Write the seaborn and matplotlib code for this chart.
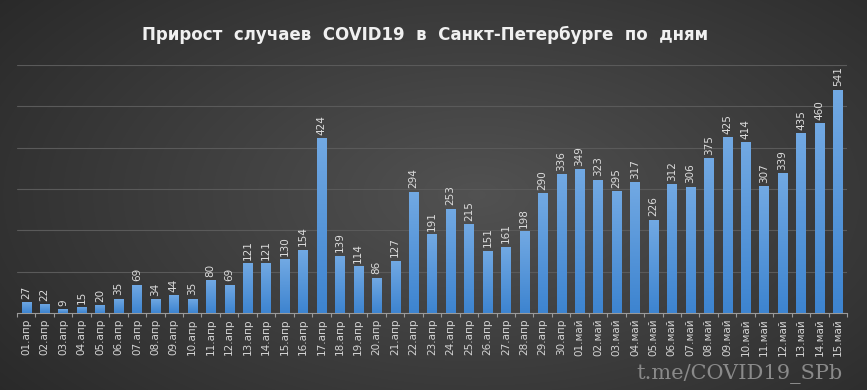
import numpy as np
import pandas as pd
import matplotlib
matplotlib.use("Agg")
import matplotlib.pyplot as plt
import seaborn as sns

# daily new cases, Saint Petersburg
apr_days = [f"{d:02d}.апр" for d in range(1, 31)]
may_days = [f"{d:02d}.май" for d in range(1, 16)]
dates = apr_days + may_days

apr_cases = [27, 22, 9, 15, 20, 35, 69, 34, 44, 35, 80, 69, 121, 121, 130,
             154, 424, 139, 114, 86, 127, 294, 191, 253, 215, 151, 161, 198, 290, 336]
may_cases = [349, 323, 295, 317, 226, 312, 306, 375, 425, 414, 307, 339, 435, 460, 541]
cases = apr_cases + may_cases

TITLE = "Прирост  случаев  COVID19  в  Санкт-Петербурге  по  дням"
WATERMARK = "t.me/COVID19_SPb"

df = pd.DataFrame({"date": dates, "cases": cases})

sns.set_theme(style="dark")
plt.rcParams["font.family"] = ["DejaVu Sans"]

fig = plt.figure(figsize=(8.67, 3.9), dpi=100)

# radial dark background
bg = fig.add_axes([0, 0, 1, 1], zorder=-10)
yy, xx = np.mgrid[0:1:390j, 0:1:867j]
r = np.sqrt(((xx - 0.55) / 0.75) ** 2 + ((yy - 0.5) / 0.9) ** 2)
shade = np.clip(0.32 - 0.17 * r, 0.15, 0.32)
bg.imshow(np.dstack([shade, shade, shade]), aspect="auto", extent=[0, 1, 0, 1])
bg.set_axis_off()

ax = fig.add_axes([0.0196, 0.197, 0.9574, 0.636])
ax.set_facecolor("none")
sns.barplot(data=df, x="date", y="cases", ax=ax, width=0.5, color="#4a8fd8", saturation=1)

# vertical gradient on bars
grad = np.linspace(0, 1, 100).reshape(-1, 1)
cmap = matplotlib.colors.LinearSegmentedColormap.from_list("bar", ["#3d84d0", "#72a9e3"])
for p in ax.patches:
    x0, y0 = p.get_x(), p.get_y()
    w, h = p.get_width(), p.get_height()
    im = ax.imshow(grad, cmap=cmap, aspect="auto", origin="lower",
                   extent=[x0, x0 + w, y0, y0 + h], zorder=3)
    im.set_clip_path(p)
    p.set_facecolor("none")
    p.set_edgecolor("none")

for i, v in enumerate(cases):
    ax.text(i, v + 8, str(v), rotation=90, ha="center", va="bottom",
            fontsize=7.5, color="#dcdcdc", zorder=4)

ax.set_xlim(-0.5, len(dates) - 0.5)
ax.set_ylim(0, 600)
ax.set_yticks(range(100, 601, 100))
ax.set_yticklabels([])
ax.tick_params(axis="y", length=0)
ax.yaxis.grid(True, color="#5a5a5a", linewidth=0.8)
ax.xaxis.grid(False)
ax.set_axisbelow(True)

ax.set_xticks(range(len(dates)))
ax.set_xticklabels(dates, rotation=90, fontsize=7.5, color="#d4d4d4")
ax.tick_params(axis="x", which="major", length=0, pad=4)
ax.set_xticks(np.arange(-0.5, len(dates), 1), minor=True)
ax.tick_params(axis="x", which="minor", length=3, color="#9a9a9a", width=0.8, bottom=True)
ax.set_xlabel("")
ax.set_ylabel("")

for s in ["top", "right", "left"]:
    ax.spines[s].set_visible(False)
ax.spines["bottom"].set_color("#9a9a9a")
ax.spines["bottom"].set_linewidth(0.8)

fig.text(0.49, 0.91, TITLE, ha="center", va="center", fontsize=12,
         fontweight="bold", color="#f0f0f0")
fig.text(0.972, 0.04, WATERMARK, ha="right", va="center", fontsize=15,
         family="DejaVu Serif", color="#8a8a8a")

fig.savefig("out.png", dpi=100)
